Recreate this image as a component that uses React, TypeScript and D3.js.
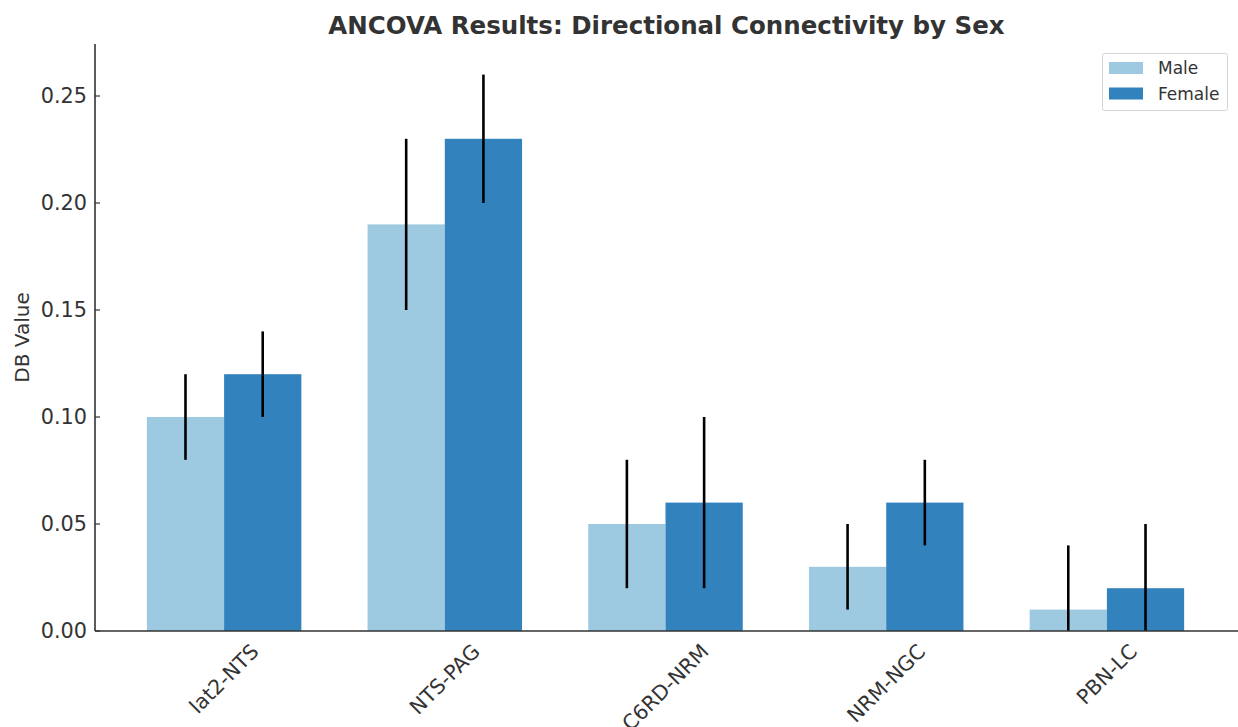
import React, { useEffect, useRef } from "react";
import * as d3 from "d3";

const categories = ["lat2-NTS", "NTS-PAG", "C6RD-NRM", "NRM-NGC", "PBN-LC"];
const maleValues = [0.10, 0.19, 0.05, 0.03, 0.01];
const femaleValues = [0.12, 0.23, 0.06, 0.06, 0.02];
const maleErrors = [0.02, 0.04, 0.03, 0.02, 0.03];
const femaleErrors = [0.02, 0.03, 0.04, 0.02, 0.03];
const yTicks = [0.0, 0.05, 0.1, 0.15, 0.2, 0.25];
const seriesNames = ["Male", "Female"];
const seriesColors = ["#9ecae1", "#3182bd"];

const W = 1238;
const H = 727;
const FONT = "DejaVu Sans, sans-serif";
const TEXT = "#333333";

export default function App() {
  const ref = useRef<SVGSVGElement>(null);

  useEffect(() => {
    const svg = d3.select(ref.current);
    svg.selectAll("*").remove();

    const left = 95, right = 1236, top = 44, bottom = 631;
    const x = d3.scaleLinear().domain([-0.585, 4.585]).range([left, right]);
    const y = d3.scaleLinear().domain([0, 0.2743]).range([bottom, top]);
    const bw = 0.35;

    const series = [
      { name: seriesNames[0], vals: maleValues, errs: maleErrors, color: seriesColors[0], off: -bw / 2 },
      { name: seriesNames[1], vals: femaleValues, errs: femaleErrors, color: seriesColors[1], off: bw / 2 },
    ];

    svg.append("defs").append("clipPath").attr("id", "plotclip")
      .append("rect").attr("x", left).attr("y", top).attr("width", right - left).attr("height", bottom - top);

    const g = svg.append("g");
    series.forEach((s) => {
      g.selectAll(null).data(s.vals).enter().append("rect")
        .attr("x", (_d, i) => x(i + s.off - bw / 2))
        .attr("width", x(bw) - x(0))
        .attr("y", (d) => y(d))
        .attr("height", (d) => y(0) - y(d))
        .attr("fill", s.color);
    });
    const eg = svg.append("g").attr("clip-path", "url(#plotclip)");
    series.forEach((s) => {
      eg.selectAll(null).data(s.vals).enter().append("line")
        .attr("x1", (_d, i) => x(i + s.off))
        .attr("x2", (_d, i) => x(i + s.off))
        .attr("y1", (d, i) => y(d - s.errs[i]))
        .attr("y2", (d, i) => y(d + s.errs[i]))
        .attr("stroke", "#000")
        .attr("stroke-width", 2.6);
    });

    // axes
    svg.append("line").attr("x1", left).attr("x2", left).attr("y1", top).attr("y2", bottom)
      .attr("stroke", TEXT).attr("stroke-width", 1.6);
    svg.append("line").attr("x1", left).attr("x2", right + 2).attr("y1", bottom).attr("y2", bottom)
      .attr("stroke", TEXT).attr("stroke-width", 1.6);

    yTicks.forEach((t) => {
      svg.append("line").attr("x1", left).attr("x2", left + 5).attr("y1", y(t)).attr("y2", y(t))
        .attr("stroke", TEXT).attr("stroke-width", 1.2);
      svg.append("text").attr("x", left - 8).attr("y", y(t)).attr("dy", "0.36em")
        .attr("text-anchor", "end").attr("font-family", FONT).attr("font-size", 20.8)
        .attr("fill", TEXT).text(t.toFixed(2));
    });

    // x labels rotated 45, bbox centered at category, top at ~641
    const fs = 20.5;
    categories.forEach((c, i) => {
      const t = svg.append("text").attr("font-family", FONT).attr("font-size", fs)
        .attr("fill", TEXT).attr("text-anchor", "middle").attr("dominant-baseline", "central").text(c);
      const w = (t.node() as SVGTextElement).getComputedTextLength();
      const h = fs * 0.95;
      const cy = 641 + (w + h) / (2 * Math.SQRT2);
      t.attr("transform", `translate(${x(i)},${cy}) rotate(-45)`);
    });

    svg.append("text").attr("transform", `translate(22,${(top + bottom) / 2}) rotate(-90)`)
      .attr("text-anchor", "middle").attr("dy", "0.36em").attr("font-family", FONT).attr("font-size", 20)
      .attr("fill", TEXT).text("DB Value");

    svg.append("text").attr("x", (left + right) / 2 + 1).attr("y", 34)
      .attr("text-anchor", "middle").attr("font-family", FONT).attr("font-size", 24.5)
      .attr("font-weight", "bold").attr("fill", TEXT).text("ANCOVA Results: Directional Connectivity by Sex");

    // legend
    const lg = svg.append("g");
    lg.append("rect").attr("x", 1102.5).attr("y", 53.5).attr("width", 125).attr("height", 57).attr("rx", 2)
      .attr("fill", "#fff").attr("stroke", "#d5d5d5").attr("stroke-width", 1);
    series.forEach((s, i) => {
      lg.append("rect").attr("x", 1109).attr("y", 62 + i * 25.5).attr("width", 34).attr("height", 12).attr("fill", s.color);
      lg.append("text").attr("x", 1158).attr("y", 68 + i * 25.5).attr("dy", "0.36em")
        .attr("font-family", FONT).attr("font-size", 17).attr("fill", TEXT).text(s.name);
    });
  }, []);

  return <svg ref={ref} width={W} height={H} style={{ position: "absolute", left: 0, top: 0, background: "#fff" }} />;
}
